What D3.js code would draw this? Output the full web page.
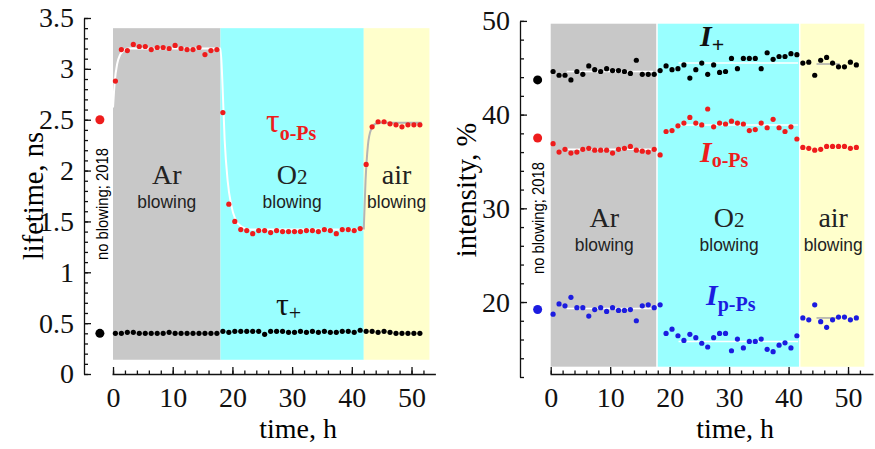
<!DOCTYPE html>
<html>
<head>
<meta charset="utf-8">
<script src="https://cdn.jsdelivr.net/npm/d3@7"></script>
<style>
body { margin:0; background:#fff; }
svg { display:block; }
</style>
</head>
<body>
<div id="chart"></div>
<script>
// measurement times, h (one spectrum per hour)
var timeH = [0.4,1.4,2.4,3.4,4.4,5.4,6.4,7.4,8.4,9.4,10.4,11.4,12.4,13.4,14.4,15.4,16.4,17.4,
	18.4,19.4,20.4,21.4,22.4,23.4,24.4,25.4,26.4,27.4,28.4,29.4,30.4,31.4,32.4,33.4,34.4,35.4,36.4,37.4,38.4,39.4,40.4,41.4,
	42.4,43.4,44.4,45.4,46.4,47.4,48.4,49.4,50.4,51.4];

// lifetimes, ns
var tauOPs = [2.88,3.19,3.18,3.24,3.22,3.22,3.19,3.21,3.21,3.20,3.23,3.20,3.19,3.19,3.21,3.14,3.18,3.19,
	2.57,1.67,1.50,1.42,1.41,1.38,1.41,1.41,1.39,1.41,1.40,1.40,1.40,1.40,1.41,1.41,1.40,1.42,1.41,1.38,1.42,1.42,1.41,1.43,
	2.06,2.43,2.48,2.48,2.46,2.45,2.43,2.45,2.45,2.45];
var tauPlus = [0.40,0.40,0.41,0.41,0.40,0.40,0.40,0.40,0.40,0.41,0.40,0.40,0.40,0.40,0.40,0.40,0.40,0.40,
	0.42,0.41,0.42,0.42,0.42,0.42,0.42,0.39,0.42,0.42,0.42,0.41,0.41,0.42,0.41,0.42,0.41,0.42,0.41,0.41,0.42,0.42,0.41,0.43,
	0.42,0.42,0.41,0.42,0.41,0.40,0.40,0.40,0.40,0.40];

// intensities, %
var intPlus = [44.6,44.2,44.2,43.7,44.6,44.3,45.2,44.8,44.6,44.9,44.7,44.7,44.6,44.4,45.8,44.3,44.3,44.3,
	44.7,45.2,44.8,44.9,45.3,43.9,44.8,45.5,44.3,45.3,44.5,44.6,46.0,44.9,46.0,46.0,46.0,44.9,46.6,45.9,46.2,46.2,46.5,46.4,
	45.5,45.6,44.2,45.8,46.1,45.5,45.1,45.1,45.6,45.3];
var intOPs = [36.9,36.0,36.3,35.9,36.0,36.3,36.4,36.2,36.2,36.2,35.9,36.3,36.4,36.6,36.2,36.1,36.0,36.3,
	35.7,38.2,38.3,38.8,39.1,39.7,39.1,38.9,40.6,38.7,39.1,39.0,39.3,39.1,39.0,38.3,38.4,39.1,38.6,39.5,38.6,38.2,38.7,37.4,
	36.5,36.4,36.2,36.3,36.6,36.6,36.6,36.6,36.4,36.5];
var intPPs = [18.7,19.8,19.6,20.5,19.4,19.4,18.5,19.2,19.4,19.0,19.4,19.1,19.1,19.2,18.0,19.6,19.7,19.4,
	19.7,16.65,17.1,16.4,15.9,16.55,16.2,15.6,15.2,16.2,16.65,16.65,14.8,16.05,15.1,15.8,15.8,16.05,14.95,14.7,15.4,15.65,15.1,16.4,
	18.3,18.1,19.7,17.9,17.3,18.1,18.4,18.4,18.1,18.3];

// reference sample, no blowing (2018)
var noBlowTime = -2.2;
var noBlowTau = [2.5, 0.40];
var noBlowInt = [43.7, 37.5, 19.2];

// gas periods
var gasNames = ["Ar", "O", "air"];
var gasSub = ["", "2", ""];
var gasStart = [0, 18, 42];
var gasEnd = [18, 42, 53];

// fitted curve of tau o-Ps
var tauFitT = [0,0.3,0.7,1.2,1.8,2.6,18,18.3,18.7,19.2,19.8,20.5,21.5,23,42];
var tauFitV = [2.62,2.88,3.05,3.14,3.18,3.2,3.2,2.9,2.3,1.9,1.66,1.52,1.45,1.42,1.42];
var tauFitT2 = [42,42.3,42.7,43.2,44,45,51.7];
var tauFitV2 = [1.42,1.9,2.25,2.4,2.46,2.47,2.47];

// flat fit levels of the intensities in each gas period
var intFitStart = [2.7, 21.5, 44.7];
var intFitEnd = [17.2, 41.6, 48.6];
var intPlusFit = [44.6, 45.5, 45.4];
var intOPsFit = [36.3, 38.9, null];
var intPPsFit = [19.3, 15.8, 18.3];

var timeTicks = [0,10,20,30,40,50];
var lifeTicks = [0,0.5,1,1.5,2,2.5,3,3.5];
var intTicks = [20,30,40,50];

var gasColors = ["#c8c8c8", "#99ffff", "#ffffcc"];
var red = "#ee1c1c", blue = "#1c1ce0";
var serif = "'Liberation Serif','Times New Roman',serif";
var sans = "'Liberation Sans',Arial,sans-serif";

var svg = d3.select("#chart").append("svg").attr("width", 875).attr("height", 449);
svg.append("rect").attr("width", 875).attr("height", 449).attr("fill", "#fff");

function drawPanel(p) {
	var x = d3.scaleLinear().domain(p.xDomain).range(p.xRange);
	var y = d3.scaleLinear().domain(p.yDomain).range(p.yRange);
	var g = svg.append("g");

	// gas backgrounds
	g.selectAll("rect.gas").data(gasStart).enter().append("rect")
		.attr("x", function(d) {return x(d)})
		.attr("width", function(d,i) {return x(gasEnd[i]) - x(d) - p.gap})
		.attr("y", y(p.bandTop))
		.attr("height", y(p.bandBottom) - y(p.bandTop))
		.attr("fill", function(d,i) {return gasColors[i]});

	// gas names
	var names = g.selectAll("text.gas").data(gasNames).enter().append("text")
		.attr("x", function(d,i) {return x((gasStart[i] + gasEnd[i]) / 2)})
		.attr("y", p.gasY)
		.attr("text-anchor", "middle")
		.attr("font-family", serif).attr("font-size", 28).attr("fill", "#222")
		.text(function(d) {return d});
	names.append("tspan").attr("font-size", 21).text(function(d,i) {return gasSub[i]});
	g.selectAll("text.blow").data(gasNames).enter().append("text")
		.attr("x", function(d,i) {return x((gasStart[i] + gasEnd[i]) / 2)})
		.attr("y", p.gasY + 24)
		.attr("text-anchor", "middle")
		.attr("font-family", sans).attr("font-size", 19).attr("fill", "#222")
		.attr("textLength", 59).attr("lengthAdjust", "spacingAndGlyphs")
		.text("blowing");

	// y axis
	g.append("g").attr("transform", "translate(" + p.yAxisX + ",0)")
		.call(d3.axisLeft(y).tickValues(p.yTicks).tickSizeInner(-7).tickSizeOuter(0)
			.tickPadding(10).tickFormat(d3.format("~g")));
	g.append("g").attr("transform", "translate(" + p.yAxisX + ",0)")
		.call(d3.axisLeft(y).tickValues(p.yMinor).tickSizeInner(-4).tickSizeOuter(0).tickFormat(""))
		.select(".domain").remove();

	// x axis
	g.append("g").attr("transform", "translate(0," + p.xAxisY + ")")
		.call(d3.axisBottom(x).tickValues(timeTicks).tickSizeInner(-7).tickSizeOuter(0).tickPadding(13));
	g.append("g").attr("transform", "translate(0," + p.xAxisY + ")")
		.call(d3.axisBottom(x).tickValues(d3.range(0, 54, 2)).tickSizeInner(-3.5).tickSizeOuter(0).tickFormat(""))
		.select(".domain").remove();

	g.selectAll(".tick line, .domain").attr("stroke", "#111").attr("stroke-width", 1.3);
	g.selectAll(".tick text").attr("font-family", serif).attr("font-size", 28).attr("fill", "#111");

	// titles
	g.append("text").attr("transform", "translate(" + p.yTitleX + "," + p.yTitleY + ") rotate(-90)")
		.attr("text-anchor", "middle").attr("font-family", serif).attr("font-size", 28.5)
		.text(p.yTitle);
	g.append("text").attr("x", x(p.xTitleT)).attr("y", 438)
		.attr("text-anchor", "middle").attr("font-family", serif).attr("font-size", 28)
		.text("time, h");
	g.append("text").attr("transform", "translate(" + p.noBlowX + "," + p.noBlowY + ") rotate(-90)")
		.attr("text-anchor", "middle").attr("font-family", sans).attr("font-size", 17)
		.attr("textLength", 112).attr("lengthAdjust", "spacingAndGlyphs")
		.text("no blowing; 2018");

	return {x: x, y: y, g: g};
}

function dots(panel, values, color) {
	panel.g.append("g").selectAll("circle").data(values).enter().append("circle")
		.attr("cx", function(d,i) {return panel.x(timeH[i])})
		.attr("cy", function(d) {return panel.y(d)})
		.attr("r", 2.6)
		.attr("fill", color);
}

function bigDot(panel, v, color) {
	panel.g.append("circle").attr("cx", panel.x(noBlowTime)).attr("cy", panel.y(v))
		.attr("r", 4.5).attr("fill", color);
}

function fitLevels(panel, levels) {
	panel.g.append("g").selectAll("line").data(levels).enter()
		.filter(function(d) {return d !== null})
		.append("line")
		.attr("x1", function(d) {return panel.x(intFitStart[levels.indexOf(d)])})
		.attr("x2", function(d) {return panel.x(intFitEnd[levels.indexOf(d)])})
		.attr("y1", function(d) {return panel.y(d)})
		.attr("y2", function(d) {return panel.y(d)})
		.attr("stroke", function(d) {return levels.indexOf(d) == 2 ? "#aaa" : "#fff"})
		.attr("stroke-width", 1.5);
}

// ---- left panel: lifetimes
var left = drawPanel({
	xDomain: [-0.17, 54], xRange: [112, 435.4],
	yDomain: [0, 3.5], yRange: [374, 18],
	bandTop: 3.4, bandBottom: 0.14, gap: 0,
	yAxisX: 84, xAxisY: 374,
	yTicks: lifeTicks, yMinor: d3.range(0, 3.51, 0.1),
	gasY: 184, yTitle: "lifetime, ns", yTitleX: 43, yTitleY: 196,
	xTitleT: 31, noBlowX: 108, noBlowY: 204
});

var fitLine = d3.line()
	.x(function(d) {return left.x(d[0])})
	.y(function(d) {return left.y(d[1])})
	.curve(d3.curveMonotoneX);
left.g.append("path").datum(d3.zip(tauFitT, tauFitV)).attr("d", fitLine)
	.attr("fill", "none").attr("stroke", "#fff").attr("stroke-width", 2);
left.g.append("path").datum(d3.zip(tauFitT2, tauFitV2)).attr("d", fitLine)
	.attr("fill", "none").attr("stroke", "#b4b4b4").attr("stroke-width", 2);

dots(left, tauOPs, red);
dots(left, tauPlus, "#000");
bigDot(left, noBlowTau[0], red);
bigDot(left, noBlowTau[1], "#000");

var lab = left.g.append("text").attr("x", 266).attr("y", 132)
	.attr("font-family", serif).attr("font-size", 34).attr("fill", red).text("τ");
lab.append("tspan").attr("dy", 8).attr("font-size", 20).attr("font-weight", "bold").text("o-Ps");
lab = left.g.append("text").attr("x", 276).attr("y", 315)
	.attr("font-family", serif).attr("font-size", 32).attr("fill", "#111").text("τ");
lab.append("tspan").attr("dy", 5).attr("font-size", 22).text("+");

// ---- right panel: intensities
var right = drawPanel({
	xDomain: [-0.12, 54.2], xRange: [550, 873],
	yDomain: [12, 50], yRange: [377, 20.9],
	bandTop: 49.7, bandBottom: 13.1, gap: 1.5,
	yAxisX: 520, xAxisY: 374,
	yTicks: intTicks, yMinor: d3.range(12, 50.1, 2),
	gasY: 227, yTitle: "intensity, %", yTitleX: 476, yTitleY: 190,
	xTitleT: 31, noBlowX: 544, noBlowY: 218
});

fitLevels(right, intPlusFit);
fitLevels(right, intOPsFit);
fitLevels(right, intPPsFit);

dots(right, intPlus, "#000");
dots(right, intOPs, red);
dots(right, intPPs, blue);
bigDot(right, noBlowInt[0], "#000");
bigDot(right, noBlowInt[1], red);
bigDot(right, noBlowInt[2], blue);

function intLabel(x, y, color, sub, dy, subSize) {
	var t = right.g.append("text").attr("x", x).attr("y", y)
		.attr("font-family", serif).attr("font-weight", "bold").attr("fill", color);
	t.append("tspan").attr("font-style", "italic").attr("font-size", 30).text("I");
	t.append("tspan").attr("dy", dy).attr("font-size", subSize).text(sub);
}
intLabel(700, 46, "#111", "+", 6, 22);
intLabel(700, 162, red, "o-Ps", 5, 20);
intLabel(706, 305, blue, "p-Ps", 6, 20);
</script>
</body>
</html>
